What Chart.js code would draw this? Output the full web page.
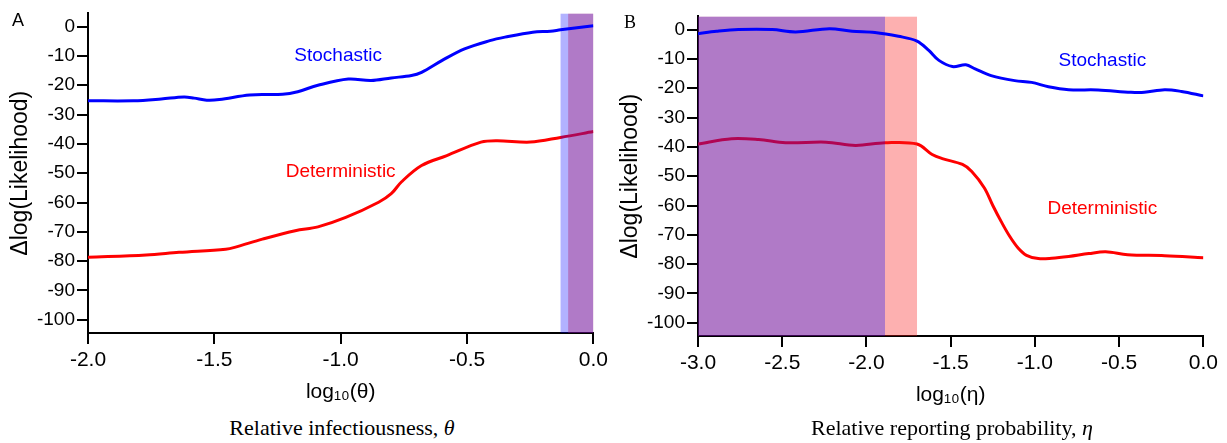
<!DOCTYPE html>
<html>
<head>
<meta charset="utf-8">
<script src="https://cdn.jsdelivr.net/npm/chart.js@4.4.1/dist/chart.umd.min.js"></script>
<style>
  body { margin: 0; background: #fff; }
  #wrap { position: relative; width: 1227px; height: 443px; overflow: hidden; font-family: "Liberation Sans", Arial, sans-serif; color: #000; }
  .panel { position: absolute; width: 612px; height: 410px; }
  .tag { position: absolute; font-size: 18px; line-height: 20px; }
  .caption { position: absolute; top: 416px; width: 508px; text-align: center; line-height: 24px;
             font-family: "Liberation Serif", "Times New Roman", serif; font-size: 22px; }
</style>
</head>
<body>
<div id="wrap">
  <div class="panel" style="left:0;top:0"><canvas id="chartA" width="612" height="410"></canvas></div>
  <div class="panel" style="left:610px;top:3px"><canvas id="chartB" width="612" height="410"></canvas></div>
  <div class="tag" style="left:12px;top:10px">A</div>
  <div class="tag" style="left:624px;top:12px;font-family:'Liberation Serif',serif">B</div>
  <div class="caption" style="left:88px">Relative infectiousness, <i>θ</i></div>
  <div class="caption" style="left:698px">Relative reporting probability, <i>η</i></div>
</div>
<script>
// panel A: log10(theta)
const thetaStoch = [-2.0, -1.82, -1.71, -1.62, -1.58, -1.53, -1.48, -1.36, -1.23, -1.17, -1.09, -0.97, -0.88, -0.80, -0.72, -0.68, -0.60, -0.51, -0.41, -0.35, -0.24, -0.17, -0.13, 0.0];
const llStochA   = [-25.3, -25.3, -24.7, -24.0, -24.4, -25.1, -24.9, -23.3, -23.1, -22.2, -20.0, -17.9, -18.4, -17.5, -16.7, -15.6, -11.6, -7.6, -4.8, -3.6, -1.9, -1.6, -1.1, 0.3];
const thetaDet   = [-2.0, -1.77, -1.64, -1.455, -1.42, -1.31, -1.18, -1.09, -0.98, -0.85, -0.80, -0.76, -0.68, -0.58, -0.445, -0.38, -0.25, -0.13, 0.0];
const llDetA     = [-78.7, -77.9, -77.0, -75.9, -75.3, -72.5, -69.6, -68.3, -65.1, -59.9, -57.0, -53.0, -47.4, -44.0, -39.4, -38.9, -39.4, -37.8, -35.8];
const ciStochA = [-0.13, 0.0];
const ciDetA   = [-0.10, 0.0];

// panel B: log10(eta)
const etaStoch = [-3.0, -2.89, -2.76, -2.56, -2.42, -2.22, -2.085, -1.95, -1.81, -1.70, -1.63, -1.57, -1.49, -1.41, -1.355, -1.26, -1.12, -1.02, -0.92, -0.80, -0.625, -0.43, -0.35, -0.23, -0.13, 0.0];
const llStochB = [-1.4, -0.6, 0.0, 0.0, -0.8, 0.3, -0.6, -1.0, -2.3, -3.9, -7.1, -10.5, -12.6, -12.0, -13.4, -15.7, -17.4, -18.0, -19.5, -20.5, -20.6, -21.4, -21.4, -20.5, -21.1, -22.6];
const etaDet   = [-3.0, -2.80, -2.64, -2.48, -2.24, -2.065, -1.89, -1.70, -1.61, -1.55, -1.43, -1.375, -1.30, -1.25, -1.20, -1.15, -1.10, -1.05, -0.98, -0.90, -0.80, -0.68, -0.58, -0.45, -0.23, 0.0];
const llDetB   = [-39.0, -37.2, -37.5, -38.6, -38.4, -39.5, -38.6, -39.0, -42.6, -44.0, -46.0, -48.4, -54.0, -60.0, -65.5, -70.5, -74.5, -77.0, -78.1, -78.0, -77.4, -76.4, -75.8, -76.8, -77.1, -77.8];
const ciStochB = [-3.0, -1.89];
const ciDetB   = [-3.0, -1.70];

const FONT = '"Liberation Sans", Arial, sans-serif';
const BLUE = '#0000ff';
const RED = '#ff0000';

const toXY = (xs, ys) => xs.map((x, i) => ({x: x, y: ys[i]}));

// red band first, blue on top -> overlap comes out purple
const bandsPlugin = {
  id: 'bands',
  afterDatasetDraw(chart, args, opts) {
    if (args.index !== 1) return;
    const {ctx, chartArea: a, scales: {x}} = chart;
    ctx.save();
    ctx.beginPath();
    ctx.rect(a.left, a.top, a.width, a.height);
    ctx.clip();
    opts.bands.forEach(b => {
      const x1 = x.getPixelForValue(b.range[0]);
      const x2 = x.getPixelForValue(b.range[1]);
      ctx.fillStyle = b.color;
      ctx.fillRect(x1, a.top, x2 - x1, a.height);
    });
    ctx.restore();
  },
  afterDatasetsDraw(chart, args, opts) {
    const {ctx, scales: {x, y}} = chart;
    ctx.save();
    ctx.font = '19px ' + FONT;
    ctx.textAlign = 'center';
    ctx.textBaseline = 'middle';
    opts.labels.forEach(l => {
      ctx.fillStyle = l.color;
      ctx.fillText(l.text, x.getPixelForValue(l.at[0]), y.getPixelForValue(l.at[1]));
    });
    ctx.restore();
  }
};

function makePanel(id, xMin, xTitle, stoch, det, ciStoch, ciDet, labelAt) {
  return new Chart(document.getElementById(id), {
    type: 'line',
    data: {
      datasets: [
        {label: 'Stochastic', data: stoch, borderColor: BLUE, borderWidth: 3, pointRadius: 0, tension: 0.35},
        {label: 'Deterministic', data: det, borderColor: RED, borderWidth: 3, pointRadius: 0, tension: 0.35}
      ]
    },
    options: {
      responsive: false,
      animation: false,
      layout: {padding: {left: 7, top: 13, right: 16, bottom: 5}},
      plugins: {
        legend: {display: false},
        tooltip: {enabled: false},
        bands: {
          bands: [
            {range: ciDet, color: 'rgba(248,29,29,0.35)'},
            {range: ciStoch, color: 'rgba(0,0,255,0.30)'}
          ],
          labels: [
            {text: 'Stochastic', color: BLUE, at: labelAt[0]},
            {text: 'Deterministic', color: RED, at: labelAt[1]}
          ]
        }
      },
      scales: {
        x: {
          type: 'linear', min: xMin, max: 0, z: 1,
          border: {color: '#000', width: 2},
          grid: {drawOnChartArea: false, color: '#000', lineWidth: 2, tickLength: 11},
          ticks: {stepSize: 0.5, color: '#000', font: {size: 21, family: FONT}, padding: 4,
                  maxRotation: 0, autoSkip: false, callback: v => v.toFixed(1)},
          title: {display: true, text: xTitle, color: '#000', font: {size: 21, family: FONT}, padding: {top: 0, bottom: 0}},
          afterFit(s) { s.height = 72; }
        },
        y: {
          type: 'linear', min: -104.5, max: 4.5, z: 1,
          border: {color: '#000', width: 2},
          grid: {drawOnChartArea: false, color: '#000', lineWidth: 2, tickLength: 11},
          ticks: {stepSize: 10, includeBounds: false, color: '#000', font: {size: 19, family: FONT}, padding: 2,
                  callback: v => String(v)},
          title: {display: true, text: 'Δlog(Likelihood)', color: '#000', font: {size: 23, family: FONT}, padding: {top: 0, bottom: 0}},
          afterFit(s) { s.width = 81; }
        }
      }
    },
    plugins: [bandsPlugin]
  });
}

makePanel('chartA', -2, 'log₁₀(θ)', toXY(thetaStoch, llStochA), toXY(thetaDet, llDetA), ciStochA, ciDetA,
          [[-1.01, -10], [-1.0, -49.6]]);
makePanel('chartB', -3, 'log₁₀(η)', toXY(etaStoch, llStochB), toXY(etaDet, llDetB), ciStochB, ciDetB,
          [[-0.60, -10.5], [-0.60, -61]]);
</script>
</body>
</html>
